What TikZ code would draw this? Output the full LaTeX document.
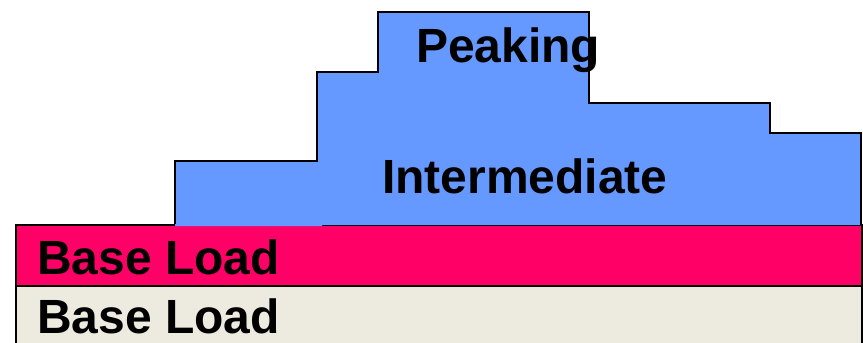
\documentclass[tikz,border=0pt]{standalone}
\usepackage{fontspec}
\setmainfont{Liberation Sans}
\definecolor{peakblue}{RGB}{102,153,255}
\definecolor{basepink}{RGB}{255,0,102}
\definecolor{basebeige}{RGB}{237,234,224}
\begin{document}
\begin{tikzpicture}[x=1pt,y=-1pt,line width=2pt]
\tikzstyle{every node}+=[inner sep=0pt]
\tikzstyle{label}=[font=\fontsize{48}{48}\selectfont\bfseries,anchor=base west]
\useasboundingbox (0,0) rectangle (863,343);
% base load blocks
\draw[fill=basebeige] (16,286) rectangle (862,352);
\draw[fill=basepink] (16,225) rectangle (862,286);
% stepped intermediate/peaking area
\fill[peakblue] (175,226) -- (175,161) -- (317,161) -- (317,72) -- (378,72) -- (378,12) -- (589,12) -- (589,103) -- (770,103) -- (770,133) -- (861,133) -- (861,225) -- (322,225) -- (322,226) -- cycle;
\draw (175,224) -- (175,161) -- (317,161) -- (317,72) -- (378,72) -- (378,12) -- (589,12) -- (589,103) -- (770,103) -- (770,133) -- (861,133) -- (861,225);
\node[label] (peak) at (415,62) {Peaking};
\node[label] (inter) at (381,193) {Intermediate};
\node[label] (base1) at (36,274) {Base Load};
\node[label] (base2) at (36,333) {Base Load};
\end{tikzpicture}
\end{document}
